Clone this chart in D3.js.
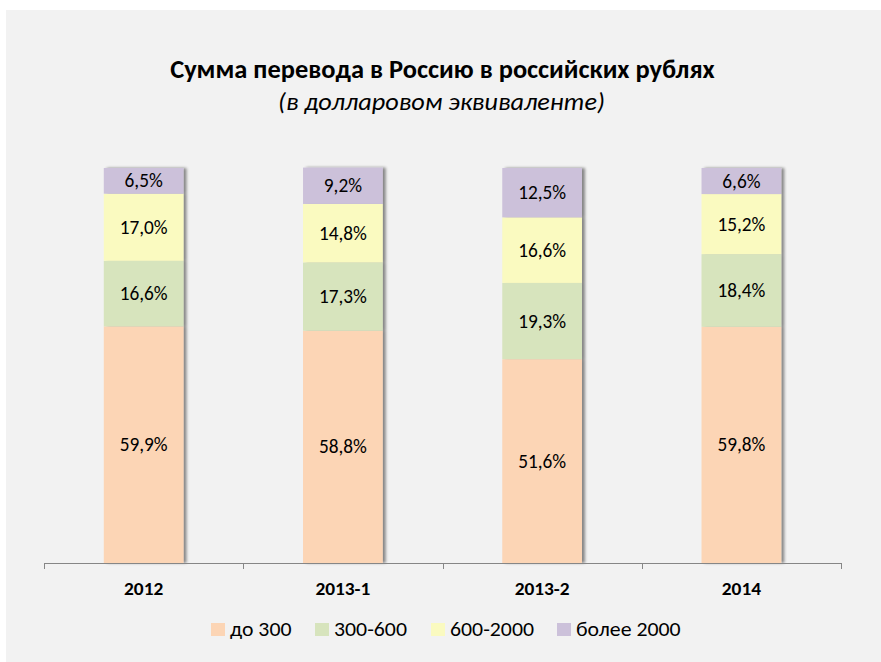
<!DOCTYPE html>
<html><head><meta charset="utf-8">
<script src="https://cdn.jsdelivr.net/npm/d3@7"></script>
<style>
html,body{margin:0;padding:0;background:#fff;}
svg{display:block;font-family:Carlito,Calibri,Lato,"Open Sans",sans-serif;}
</style></head><body>
<svg id="chart" width="881" height="662"></svg>
<script>
const categories = ["2012", "2013-1", "2013-2", "2014"];
const seriesNames = ["до 300", "300-600", "600-2000", "более 2000"];
const values_do300 = [59.9, 58.8, 51.6, 59.8];
const values_300_600 = [16.6, 17.3, 19.3, 18.4];
const values_600_2000 = [17.0, 14.8, 16.6, 15.2];
const values_bolee2000 = [6.5, 9.2, 12.5, 6.6];
const colors = ["#FCD5B5", "#D7E4BD", "#FAFAC0", "#CCC1DA"];
const titleText = "Сумма перевода в Россию в российских рублях";
const subtitleText = "(в долларовом эквиваленте)";

const FONT = 'Carlito, Calibri, Lato, "Open Sans", sans-serif';
const seriesValues = [values_do300, values_300_600, values_600_2000, values_bolee2000];
const rows = categories.map((c, i) => {
  const r = {cat: c};
  seriesNames.forEach((s, j) => r[s] = seriesValues[j][i]);
  return r;
});
const fmt = v => v.toFixed(1).replace(".", ",") + "%";

const svg = d3.select("#chart");
svg.append("rect").attr("x", 6).attr("y", 10).attr("width", 875).attr("height", 652).attr("fill", "#F2F2F2");

function fitSize(text, target, weight, style) {
  const t = svg.append("text").attr("font-size", 100).attr("font-weight", weight || "normal")
    .attr("font-style", style || "normal").text(text);
  const w = t.node().getComputedTextLength();
  t.remove();
  return 100 * target / w;
}
const ctx = document.createElement("canvas").getContext("2d");
function glyphH(ch, weight, style) {
  ctx.font = `${style || "normal"} ${weight || "normal"} 100px ${FONT}`;
  return ctx.measureText(ch).actualBoundingBoxAscent / 100;
}
function stretch(size, targetH, ch, weight, style) {
  const h = glyphH(ch, weight, style) * size;
  return h > 0 ? targetH / h : 1;
}
const titleSize = fitSize(titleText, 545, "bold");
const subSize = fitSize(subtitleText, 327, "normal", "italic");
const labelSize = fitSize("17,0%", 48);
const catSize = fitSize("2013-1", 55, "bold");
const legSize = fitSize("300-600", 73);
const kTitle = stretch(titleSize, 16.5, "Р", "bold");
const kSub = kTitle;
const kLabel = stretch(labelSize, 13, "0");
const kCat = stretch(catSize, 12, "2", "bold");
const kLeg = stretch(legSize, 14, "3");

function sText(g, x, y, k, size, txt) {
  return g.append("text").attr("transform", `translate(${x},${y}) scale(1,${k})`)
    .attr("font-size", size).attr("fill", "#000").text(txt);
}

const defs = svg.append("defs");
const f = defs.append("filter").attr("id", "sh").attr("x", "-10%").attr("y", "-10%").attr("width", "130%").attr("height", "120%");
f.append("feGaussianBlur").attr("in", "SourceAlpha").attr("stdDeviation", 1.6).attr("result", "b");
f.append("feOffset").attr("in", "b").attr("dx", 3).attr("dy", 0).attr("result", "o");
f.append("feComponentTransfer").attr("in", "o").attr("result", "o2")
  .append("feFuncA").attr("type", "linear").attr("slope", 0.45);
const m = f.append("feMerge");
m.append("feMergeNode").attr("in", "o2");
m.append("feMergeNode").attr("in", "SourceGraphic");

const x = d3.scaleBand().domain(categories).range([44, 841]).paddingInner(0.6).paddingOuter(0.3);
const y = d3.scaleLinear().domain([0, 100]).range([563, 168]);

const stack = d3.stack().keys(seriesNames)(rows);

const barG = svg.append("g");
categories.forEach((c, i) => {
  const g = barG.append("g").attr("filter", "url(#sh)");
  stack.forEach((s, j) => {
    const d = s[i];
    g.append("rect")
      .attr("x", x(c)).attr("width", x.bandwidth())
      .attr("y", y(d[1])).attr("height", y(d[0]) - y(d[1]))
      .attr("fill", colors[j]);
  });
});
const labG = svg.append("g").attr("text-anchor", "middle");
stack.forEach((s, j) => {
  s.forEach((d, i) => {
    const cx = x(categories[i]) + x.bandwidth() / 2;
    const cy = (y(d[0]) + y(d[1])) / 2 + 6.5;
    sText(labG, cx, cy, kLabel, labelSize, fmt(seriesValues[j][i]));
  });
});

const xAxisBand = d3.scaleBand().domain(categories).range([44, 841]);
const ax = svg.append("g").attr("transform", "translate(0,563)")
  .call(d3.axisBottom(xAxisBand).tickSize(0).tickPadding(0));
ax.attr("font-family", null).attr("font-size", null);
ax.select(".domain").attr("stroke", "#868686").attr("d", "M44.5,0.5H841.5");
ax.selectAll(".tick text")
  .attr("font-size", catSize).attr("font-weight", "bold").attr("fill", "#000")
  .attr("dy", null).attr("y", null)
  .attr("transform", `translate(0,32) scale(1,${kCat})`);
const tickPos = categories.map(c => xAxisBand(c)).concat([xAxisBand.range()[1]]);
ax.selectAll(".sep").data(tickPos).join("line").attr("class", "sep")
  .attr("x1", d => Math.round(d) + 0.5).attr("x2", d => Math.round(d) + 0.5)
  .attr("y1", 0).attr("y2", 6).attr("stroke", "#868686");

sText(svg, 442.5, 78, kTitle, titleSize, titleText).attr("text-anchor", "middle").attr("font-weight", "bold");
sText(svg, 441.5, 109.5, kSub, subSize, subtitleText).attr("text-anchor", "middle").attr("font-style", "italic");

const legX = [211, 315, 431, 557];
const lg = svg.append("g");
seriesNames.forEach((s, j) => {
  lg.append("rect").attr("x", legX[j]).attr("y", 623).attr("width", 14).attr("height", 13).attr("fill", colors[j]);
  sText(lg, legX[j] + 19, 636, kLeg, legSize, s);
});
</script>
</body></html>
